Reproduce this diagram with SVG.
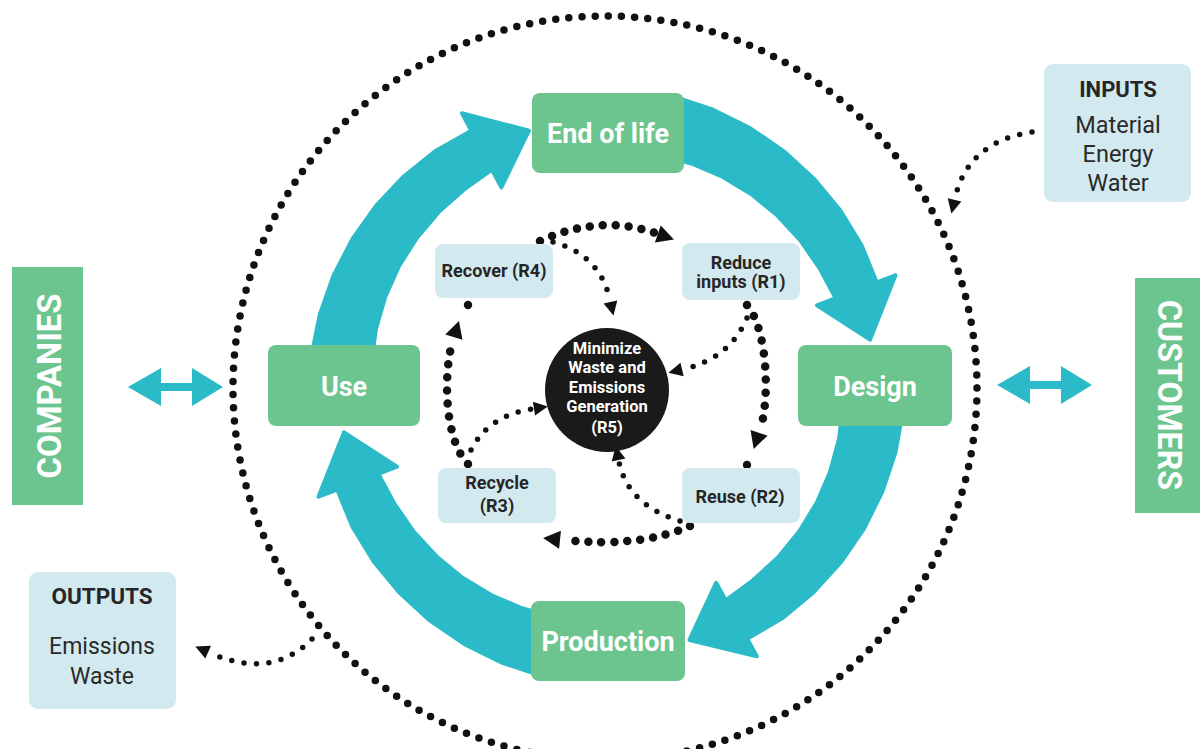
<svg xmlns="http://www.w3.org/2000/svg" width="1200" height="749" viewBox="0 0 1200 749">
<style>
.green{fill:#6cc58e}
.light{fill:#d2eaef}
.gt{font-family:Roboto,'Liberation Sans',Arial,sans-serif;font-weight:700;fill:#fff;text-anchor:middle}
.dt{font-family:Roboto,'Liberation Sans',Arial,sans-serif;font-weight:700;fill:#262626;text-anchor:middle}
.rt{font-family:Roboto,'Liberation Sans',Arial,sans-serif;font-weight:400;fill:#2a2a2a;text-anchor:middle}
.band{fill:#2bbac7;stroke:#2bbac7;stroke-width:4;stroke-linejoin:round}
.big{fill:none;stroke:#111;stroke-width:8.5;stroke-linecap:round;stroke-dasharray:0 13}
.small{fill:none;stroke:#111;stroke-width:5.5;stroke-linecap:round;stroke-dasharray:0 12.5}
.outer{fill:none;stroke:#111;stroke-width:7.5;stroke-linecap:round;stroke-dasharray:0 13.2}
</style>
<defs>
<path id="bandShape" d="M297,0 L293.1,41.2 L283.5,81.3 L268.5,119.6 L248.4,155.2 L223.6,187.7 L194.7,216.2 L161.6,239.6 L172.8,256.2 L104.3,245.8 L125.8,186.5 L137.0,203.1 L162.6,180.5 L185.4,155.6 L204.4,127.7 L219.3,97.6 L229.7,65.9 L235.7,32.9 L237,0 Z"/>
<marker id="ahBig" markerUnits="userSpaceOnUse" markerWidth="26" markerHeight="22" viewBox="0 0 26 22" refX="3" refY="11" orient="auto">
<path d="M6,2 L23,11 L6,20 Z" fill="#111"/>
</marker>
<marker id="ahSmall" markerUnits="userSpaceOnUse" markerWidth="22" markerHeight="18" viewBox="0 0 22 18" refX="3" refY="9" orient="auto">
<path d="M5,2 L19,9 L5,16 Z" fill="#111"/>
</marker>
</defs>
<rect width="1200" height="749" fill="#fff"/>

<g id="connectors">
<circle class="outer" cx="605" cy="388" r="372"/>
<use href="#bandShape" class="band" transform="translate(607,386) rotate(186)"/>
<use href="#bandShape" class="band" transform="translate(607,386) rotate(283)"/>
<use href="#bandShape" class="band" transform="translate(607,386) rotate(5)"/>
<use href="#bandShape" class="band" transform="translate(607,386) rotate(103)"/>
<path class="big" d="M540,241 Q600,214 655,233" marker-end="url(#ahBig)"/>
<path class="big" d="M747,305 C768,330 770,400 760,430" marker-end="url(#ahBig)"/>
<circle cx="747" cy="465" r="4.2" fill="#111"/>
<path class="big" d="M690,526 Q640,548 563,540" marker-end="url(#ahBig)"/>
<path class="big" d="M468,464 C444,440 443,372 453,340" marker-end="url(#ahBig)"/>
<circle cx="468" cy="305" r="4.2" fill="#111"/>
<path class="small" d="M553,242 Q600,255 610,300" marker-end="url(#ahSmall)"/>
<path class="small" d="M747,318 Q730,358 684,369" marker-end="url(#ahSmall)"/>
<path class="small" d="M680,521 Q628,505 619,462" marker-end="url(#ahSmall)"/>
<path class="small" d="M471,450 Q488,416 532,409" marker-end="url(#ahSmall)"/>
<path class="small" d="M1032,132 Q968,142 955,198" marker-end="url(#ahSmall)"/>
<path class="small" d="M312,639 Q272,680 210,653" marker-end="url(#ahSmall)"/>
<polygon fill="#2bbac7" points="128,387 161,368 161,383 192,383 192,368 223,387 192,406 192,391 161,391 161,406"/>
<polygon fill="#2bbac7" points="997,385 1030,366 1030,381 1061,381 1061,366 1092,385 1061,404 1061,389 1030,389 1030,404"/>
</g>

<g id="end-of-life">
<rect class="green" x="532" y="93" width="152" height="80" rx="8"/>
<text class="gt" x="608" y="143" font-size="27">End of life</text>
</g>
<g id="use">
<rect class="green" x="268" y="345" width="152" height="81" rx="8"/>
<text class="gt" x="344" y="396" font-size="27">Use</text>
</g>
<g id="design">
<rect class="green" x="798" y="345" width="154" height="81" rx="8"/>
<text class="gt" x="875" y="396" font-size="27">Design</text>
</g>
<g id="production">
<rect class="green" x="531" y="601" width="154" height="80" rx="8"/>
<text class="gt" x="608" y="651" font-size="27">Production</text>
</g>

<g id="recover">
<rect class="light" x="435" y="244" width="118" height="54" rx="8"/>
<text class="dt" x="494" y="277" font-size="18">Recover (R4)</text>
</g>
<g id="reduce">
<rect class="light" x="682" y="243" width="118" height="57" rx="8"/>
<text class="dt" x="741" y="269" font-size="18">Reduce</text>
<text class="dt" x="741" y="288" font-size="18">inputs (R1)</text>
</g>
<g id="recycle">
<rect class="light" x="438" y="468" width="118" height="55" rx="8"/>
<text class="dt" x="497" y="489" font-size="18">Recycle</text>
<text class="dt" x="497" y="512" font-size="18">(R3)</text>
</g>
<g id="reuse">
<rect class="light" x="682" y="468" width="118" height="55" rx="8"/>
<text class="dt" x="740" y="503" font-size="18">Reuse (R2)</text>
</g>

<g id="minimize">
<circle cx="607" cy="390" r="62" fill="#1a1a1a"/>
<text class="gt" x="607" y="354" font-size="16.5">Minimize</text>
<text class="gt" x="607" y="373" font-size="16.5">Waste and</text>
<text class="gt" x="607" y="393" font-size="16.5">Emissions</text>
<text class="gt" x="607" y="412" font-size="16.5">Generation</text>
<text class="gt" x="607" y="433" font-size="16.5">(R5)</text>
</g>

<g id="companies">
<rect class="green" x="12" y="267" width="71" height="238"/>
<text class="gt" transform="translate(49,386) rotate(-90)" x="0" y="12" font-size="34" textLength="185" lengthAdjust="spacingAndGlyphs">COMPANIES</text>
</g>
<g id="customers">
<rect class="green" x="1135" y="278" width="70" height="235"/>
<text class="gt" transform="translate(1170,395) rotate(90)" x="0" y="12" font-size="34" textLength="190" lengthAdjust="spacingAndGlyphs">CUSTOMERS</text>
</g>

<g id="inputs">
<rect class="light" x="1044" y="64" width="147" height="138" rx="9"/>
<text class="dt" x="1118" y="97" font-size="22">INPUTS</text>
<text class="rt" x="1118" y="133" font-size="23.5">Material</text>
<text class="rt" x="1118" y="162" font-size="23.5">Energy</text>
<text class="rt" x="1118" y="191" font-size="23.5">Water</text>
</g>
<g id="outputs">
<rect class="light" x="29" y="572" width="147" height="137" rx="9"/>
<text class="dt" x="102" y="604" font-size="22.5">OUTPUTS</text>
<text class="rt" x="102" y="654" font-size="23">Emissions</text>
<text class="rt" x="102" y="684" font-size="23">Waste</text>
</g>
</svg>
